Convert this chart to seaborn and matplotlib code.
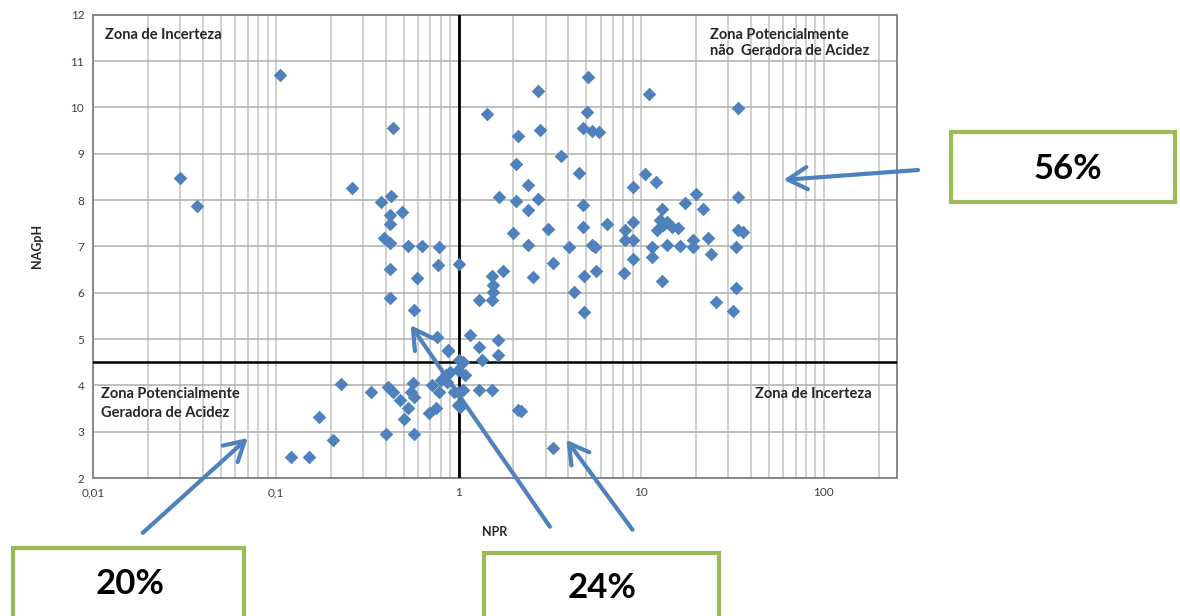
import numpy as np
import pandas as pd
import matplotlib
matplotlib.use("Agg")
import matplotlib.pyplot as plt
import matplotlib.ticker as ticker
from matplotlib.patches import Rectangle, FancyArrowPatch
import seaborn as sns

# valores (NPR em escala log, NAGpH)
npr = [0.030, 0.037, 0.105, 0.26,
       0.375, 0.425, 0.436, 0.42, 0.42, 0.49, 0.39, 0.42, 0.53, 0.63, 0.78,
       0.42, 0.59, 0.77, 1.0, 0.42, 0.57, 0.76, 0.88,
       0.227, 0.33, 0.172, 0.205, 0.121, 0.151, 0.40, 0.57,
       0.41, 0.44, 0.48, 0.53, 0.50, 0.56, 0.55, 0.57, 0.685, 0.75, 0.72, 0.78,
       0.80, 0.85, 0.90, 0.87, 0.94, 0.99, 1.0, 1.06, 1.09, 1.06, 0.99, 0.99, 1.02,
       0.88, 1.16, 1.29, 1.65, 1.65, 1.35, 1.29, 1.53, 2.13,
       1.67, 2.07, 2.07, 2.0, 1.76, 1.53, 1.55, 1.55, 1.29, 1.53,
       1.44, 2.13, 2.73, 2.8, 5.13, 5.06, 4.8, 5.4, 5.9, 11.0, 33.8,
       3.66, 4.58, 2.4, 9.0, 10.5, 12.1, 2.73, 2.4, 4.8, 20.0, 33.8, 17.4, 13.0, 21.8,
       3.1, 4.8, 6.5, 8.15, 9.0, 12.2, 13.2, 14.7, 15.9, 12.7, 13.8, 33.8, 36.0, 23.2,
       2.4, 4.04, 5.4, 5.6, 8.15, 9.0, 11.5, 13.8, 16.3, 19.2, 19.2, 33.0,
       3.3, 2.57, 4.3, 4.87, 4.87, 5.67, 8.1, 9.0, 11.5, 13.0, 24.1, 33.0, 25.7, 31.8,
       2.2, 3.3]
nagph = [8.47, 7.88, 10.70, 8.25,
         7.96, 8.09, 9.56, 7.68, 7.49, 7.74, 7.18, 7.08, 7.01, 7.01, 6.99,
         6.51, 6.32, 6.60, 6.62, 5.89, 5.63, 5.05, 4.74,
         4.03, 3.86, 3.32, 2.82, 2.45, 2.45, 2.95, 2.95,
         3.97, 3.86, 3.68, 3.51, 3.27, 4.05, 3.86, 3.75, 3.40, 3.51, 4.00, 3.86,
         4.12, 4.22, 4.29, 4.07, 3.86, 4.33, 4.55, 4.50, 4.22, 3.90, 3.86, 3.58, 3.53,
         4.76, 5.09, 4.83, 4.98, 4.66, 4.55, 3.90, 3.90, 3.47,
         8.07, 7.98, 8.78, 7.29, 6.47, 6.36, 6.17, 6.02, 5.84, 5.84,
         9.86, 9.39, 10.36, 9.52, 10.66, 9.90, 9.56, 9.50, 9.47, 10.29, 9.99,
         8.96, 8.59, 8.33, 8.28, 8.57, 8.40, 8.02, 7.79, 7.90, 8.13, 8.07, 7.94, 7.81, 7.81,
         7.38, 7.42, 7.48, 7.36, 7.53, 7.36, 7.46, 7.42, 7.40, 7.57, 7.53, 7.36, 7.31, 7.18,
         7.03, 6.99, 7.03, 6.99, 7.14, 7.14, 6.99, 7.03, 7.01, 7.14, 6.99, 6.99,
         6.64, 6.34, 6.02, 6.36, 5.59, 6.47, 6.43, 6.73, 6.78, 6.25, 6.84, 6.10, 5.80, 5.61,
         3.45, 2.65]

xticks = [0.01, 0.1, 1, 10, 100]
xtick_labels = ['0,01', '0,1', '1', '10', '100']
pct_labels = ['56%', '20%', '24%']

df = pd.DataFrame({'NPR': npr, 'NAGpH': nagph})

sns.set_style('white')
plt.rcParams['font.family'] = ['Lato', 'DejaVu Sans']

azul = '#4f81bd'
verde = '#9bbb59'

fig = plt.figure(figsize=(11.8, 6.16), dpi=100)
ax = fig.add_axes([0.079, 0.224, 0.681, 0.752])

sns.scatterplot(data=df, x='NPR', y='NAGpH', marker='D', s=48, color=azul,
                linewidth=0, ax=ax, zorder=4)

ax.set_xscale('log')
ax.set_xlim(0.01, 251)
ax.set_ylim(2, 12)
ax.set_xticks(xticks)
ax.set_xticklabels(xtick_labels)
ax.xaxis.set_minor_locator(ticker.LogLocator(base=10, subs=range(2, 10)))
ax.xaxis.set_minor_formatter(ticker.NullFormatter())
ax.set_yticks(range(2, 13))

# grade cinza
ax.grid(axis='x', which='both', color='#c8c8c8', linewidth=1.2, zorder=0)
ax.grid(axis='y', which='major', color='#b4b4b4', linewidth=1.2, zorder=0)
ax.set_axisbelow(True)
for s in ax.spines.values():
    s.set_color('#7f7f7f')
    s.set_linewidth(1.3)

ax.tick_params(axis='both', which='major', labelsize=8.5, length=3, color='#7f7f7f',
               labelcolor='#404040')
ax.tick_params(axis='x', which='minor', length=0)

# linhas dos limites
ax.axvline(1, color='black', linewidth=2, zorder=3)
ax.axhline(4.5, color='black', linewidth=1.8, zorder=3)

ax.set_xlabel('NPR', fontsize=9, fontweight='bold', labelpad=20)
ax.set_ylabel('NAGpH', fontsize=9, fontweight='bold', labelpad=20)

# textos das zonas
txt = dict(fontsize=10.5, fontweight='bold', color='#262626', transform=ax.transAxes)
ax.text(0.015, 0.972, 'Zona de Incerteza', va='top', ha='left', **txt)
ax.text(0.768, 0.972, 'Zona Potencialmente\nnão  Geradora de Acidez', va='top', ha='left',
        linespacing=1.2, **txt)
ax.text(0.01, 0.197, 'Zona Potencialmente\nGeradora de Acidez', va='top', ha='left',
        linespacing=1.45, **txt)
ax.text(0.824, 0.197, 'Zona de Incerteza', va='top', ha='left', **txt)

# caixas com as porcentagens (fora do eixo)
caixas = [(0.806, 0.672, 0.19, 0.113), (0.011, -0.02, 0.196, 0.13), (0.41, -0.02, 0.199, 0.122)]
pos_txt = [(0.905, 0.725), (0.11, 0.052), (0.51, 0.045)]
for (x0, y0, w, h), (tx, ty), lab in zip(caixas, pos_txt, pct_labels):
    fig.patches.append(Rectangle((x0, y0), w, h, transform=fig.transFigure,
                                 facecolor='white', edgecolor=verde, linewidth=3,
                                 clip_on=False))
    fig.text(tx, ty, lab, ha='center', va='center', fontsize=25, fontweight='bold',
             color='black')

# setas
seta = dict(arrowstyle='->,head_length=0.7,head_width=0.4', color=azul, lw=3,
            shrinkA=0, shrinkB=0, mutation_scale=20)
setas = [((0.778, 0.724), (0.664, 0.708)),
         ((0.121, 0.135), (0.21, 0.289)),
         ((0.466, 0.145), (0.348, 0.472)),
         ((0.536, 0.14), (0.48, 0.286))]
for tail, head in setas:
    fig.add_artist(FancyArrowPatch(tail, head, transform=fig.transFigure, **seta))

plt.savefig('out.png', dpi=100)
plt.close()
